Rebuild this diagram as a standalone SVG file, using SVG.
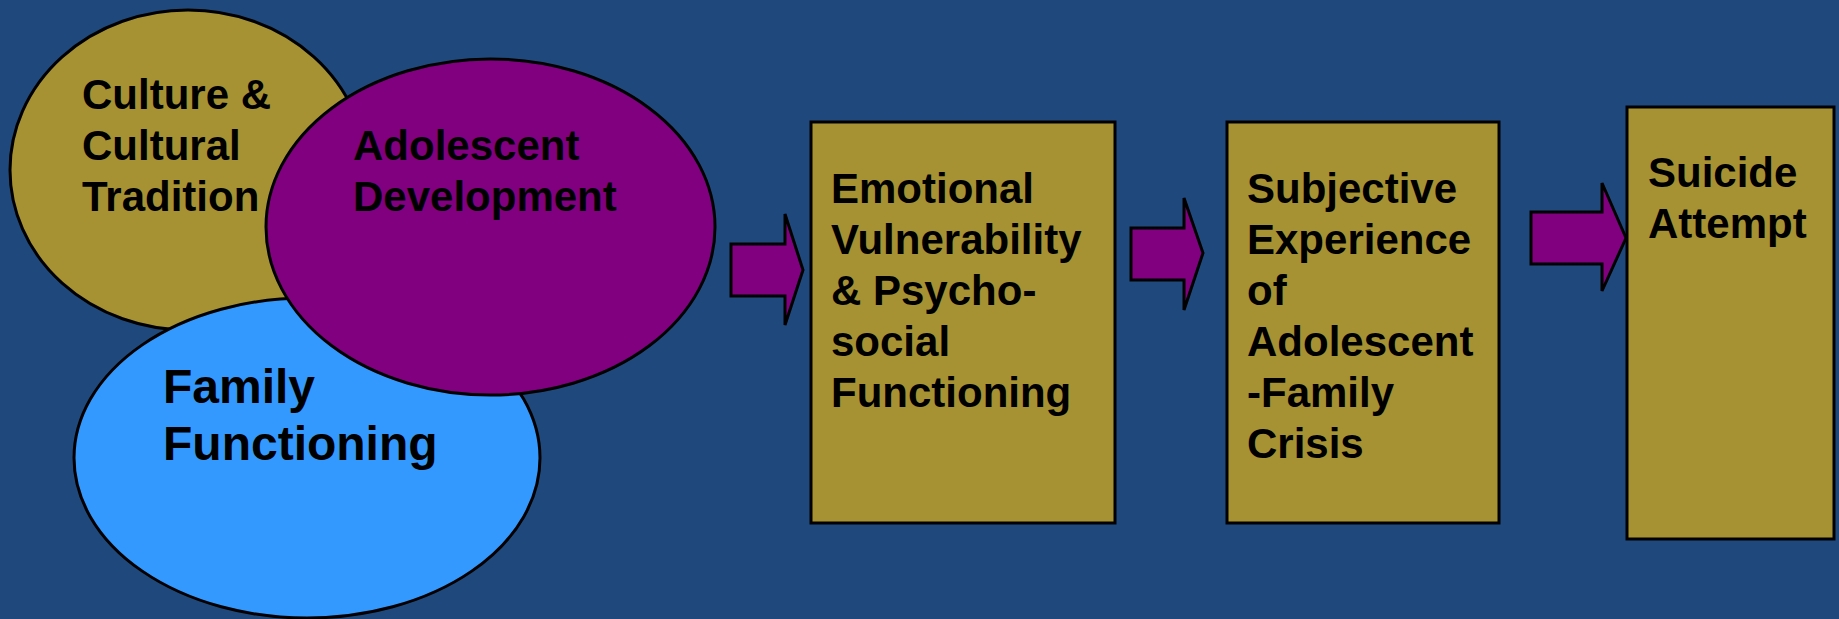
<svg xmlns="http://www.w3.org/2000/svg" width="1839" height="619" viewBox="0 0 1839 619">
<style>
.bg{fill:#1F497D}
.olive{fill:#A69233;stroke:#000;stroke-width:3}
.purple{fill:#800080;stroke:#000;stroke-width:3}
.blue{fill:#3399FF;stroke:#000;stroke-width:3}
.t{font-family:"Liberation Sans",Arial,sans-serif;font-weight:bold;font-size:42px;fill:#000}
.tl{font-size:48px}
</style>
<rect class="bg" x="0" y="0" width="1839" height="619"/>
<g id="culture">
<ellipse class="olive" cx="188" cy="170" rx="178" ry="160"/>
<text class="t" x="82" y="109">Culture &amp;</text>
<text class="t" x="82" y="160">Cultural</text>
<text class="t" x="82" y="211">Tradition</text>
</g>
<g id="family">
<ellipse class="blue" cx="307" cy="458" rx="233" ry="160"/>
<text class="t tl" x="163" y="403">Family</text>
<text class="t tl" x="163" y="460">Functioning</text>
</g>
<g id="adolescent">
<ellipse class="purple" cx="490.5" cy="227" rx="224.5" ry="168"/>
<text class="t" x="353" y="160">Adolescent</text>
<text class="t" x="353" y="211">Development</text>
</g>
<g id="connectors">
<polygon class="purple" points="731,244 785,244 785,214 803,270 785,325 785,296 731,296"/>
<polygon class="purple" points="1131,228 1184,228 1184,198 1203,253 1184,310 1184,280 1131,280"/>
<polygon class="purple" points="1531,212 1602,212 1602,183 1626,238 1602,291 1602,264 1531,264"/>
</g>
<g id="emotional">
<rect class="olive" x="811" y="122" width="304" height="401"/>
<text class="t" x="831" y="203">Emotional</text>
<text class="t" x="831" y="254">Vulnerability</text>
<text class="t" x="831" y="305">&amp; Psycho-</text>
<text class="t" x="831" y="356">social</text>
<text class="t" x="831" y="407">Functioning</text>
</g>
<g id="subjective">
<rect class="olive" x="1227" y="122" width="272" height="401"/>
<text class="t" x="1247" y="203">Subjective</text>
<text class="t" x="1247" y="254">Experience</text>
<text class="t" x="1247" y="305">of</text>
<text class="t" x="1247" y="356">Adolescent</text>
<text class="t" x="1247" y="407">-Family</text>
<text class="t" x="1247" y="458">Crisis</text>
</g>
<g id="suicide">
<rect class="olive" x="1627" y="107" width="207" height="432"/>
<text class="t" x="1648" y="187">Suicide</text>
<text class="t" x="1648" y="238">Attempt</text>
</g>
</svg>
